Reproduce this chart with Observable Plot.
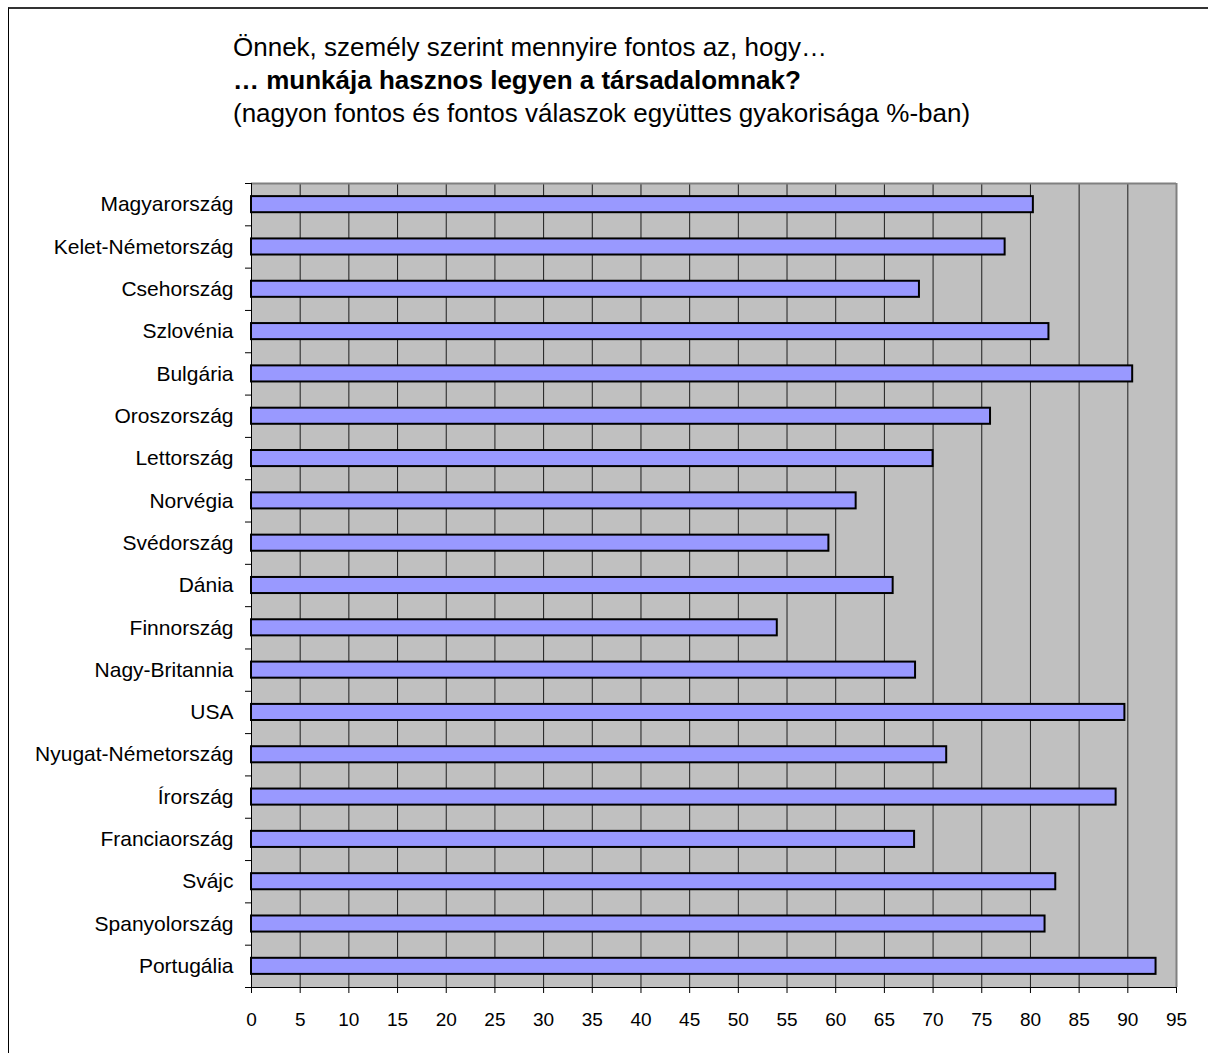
<!DOCTYPE html>
<html>
<head>
<meta charset="utf-8">
<script src="https://cdn.jsdelivr.net/npm/d3@7"></script>
<script src="https://cdn.jsdelivr.net/npm/@observablehq/plot@0.6"></script>
<style>
  html, body { margin: 0; padding: 0; background: #fff; }
  #wrap { position: relative; width: 1208px; height: 1053px; overflow: hidden; font-family: "Liberation Sans", Arial, sans-serif; }
  #frame { position: absolute; left: 8px; top: 7px; width: 1300px; height: 1200px; border-top: 2px solid #333; border-left: 1px solid #000; }
  #title { position: absolute; left: 233px; top: 31px; font-size: 26px; line-height: 33px; color: #000; white-space: nowrap; }
  #title b { font-weight: bold; }
  #chart { position: absolute; left: 0; top: 0; }
</style>
</head>
<body>
<div id="wrap">
  <div id="frame"></div>
  <div id="title">
    <div>Önnek, személy szerint mennyire fontos az, hogy…</div>
    <div><b>… munkája hasznos legyen a társadalomnak?</b></div>
    <div>(nagyon fontos és fontos válaszok együttes gyakorisága %-ban)</div>
  </div>
  <div id="chart"></div>
</div>
<script>
const countries = [
  "Magyarország", "Kelet-Németország", "Csehország", "Szlovénia", "Bulgária",
  "Oroszország", "Lettország", "Norvégia", "Svédország", "Dánia",
  "Finnország", "Nagy-Britannia", "USA", "Nyugat-Németország", "Írország",
  "Franciaország", "Svájc", "Spanyolország", "Portugália"
];
const values = [
  80.3, 77.4, 68.6, 81.9, 90.5,
  75.9, 70.0, 62.1, 59.3, 65.9,
  54.0, 68.2, 89.7, 71.4, 88.8,
  68.1, 82.6, 81.5, 92.9
];
const xTicks = [0, 5, 10, 15, 20, 25, 30, 35, 40, 45, 50, 55, 60, 65, 70, 75, 80, 85, 90, 95];

const data = countries.map((c, i) => ({country: c, idx: i, value: values[i]}));
const n = countries.length;
const indices = d3.range(n);
const boundaries = d3.range(n + 1).map(i => i - 0.5);
const half = 0.19;

const chart = Plot.plot({
  width: 1208,
  height: 1053,
  marginLeft: 251,
  marginRight: 32,
  marginTop: 183,
  marginBottom: 66,
  style: {fontFamily: "'Liberation Sans', Arial, sans-serif", fontSize: "19px", background: "transparent", color: "#000", overflow: "visible"},
  x: {domain: [0, 95], nice: false},
  y: {domain: [-0.5, n - 0.5], reverse: true},
  marks: [
    Plot.frame({fill: "#c0c0c0", stroke: null}),
    Plot.gridX(xTicks.filter(t => t > 0 && t < 95), {stroke: "#000", strokeOpacity: 0.85, strokeWidth: 1}),
    Plot.rectX(data, {
      x1: 0, x2: "value",
      y1: d => d.idx - half, y2: d => d.idx + half,
      fill: "#9999ff", stroke: "#000", strokeWidth: 2
    }),
    Plot.ruleX([95], {stroke: "#808080", strokeWidth: 2}),
    Plot.ruleY([-0.5], {stroke: "#808080", strokeWidth: 2}),
    Plot.ruleY([n - 0.5], {stroke: "#000", strokeWidth: 1}),
    Plot.ruleX([0], {stroke: "#000", strokeWidth: 1}),
    Plot.axisX({ticks: xTicks, tickSize: 6, tickPadding: 19, tickFormat: d => String(d), label: null, fontSize: 19}),
    Plot.axisY({ticks: boundaries, tickSize: 6, tickFormat: () => "", label: null}),
    Plot.axisY({ticks: indices, tickSize: 0, tickPadding: 18, tickFormat: i => countries[i], label: null, fontSize: 21})
  ]
});
document.getElementById("chart").appendChild(chart);
</script>
</body>
</html>
